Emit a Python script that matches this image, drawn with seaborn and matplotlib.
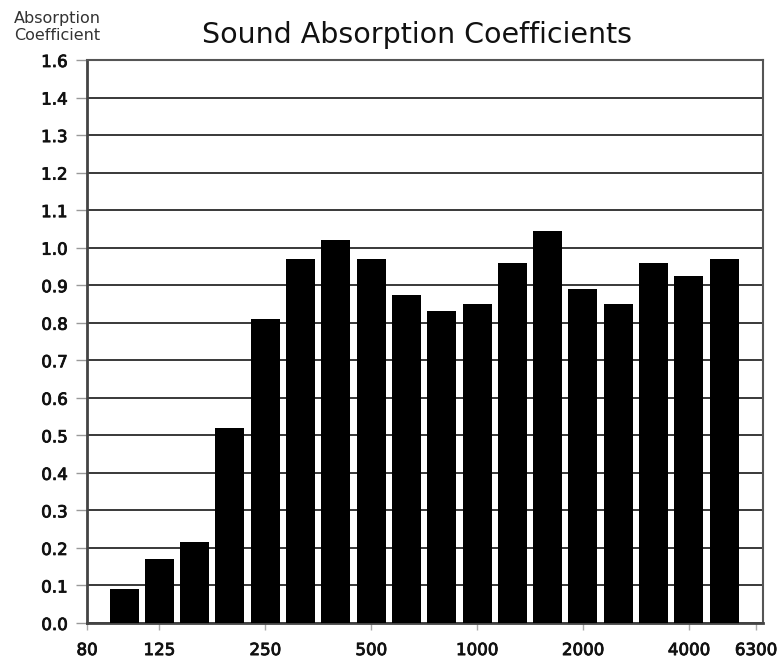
import matplotlib
matplotlib.use("Agg")
import matplotlib.pyplot as plt
import matplotlib.patheffects as pe
import seaborn as sns
import pandas as pd

# ---- data ----
bands = ["100", "125", "160", "200", "250", "315", "400", "500", "630",
         "800", "1000", "1250", "1600", "2000", "2500", "3150", "4000", "5000"]
coefficients = [0.09, 0.17, 0.215, 0.52, 0.81, 0.97, 1.02, 0.97, 0.875,
                0.83, 0.85, 0.96, 1.045, 0.89, 0.85, 0.96, 0.925, 0.97]
x_tick_positions = [-1.05, 1, 4, 7, 10, 13, 16, 17.9]
x_tick_labels = ["80", "125", "250", "500", "1000", "2000", "4000", "6300"]
y_tick_values = [0.0, 0.1, 0.2, 0.3, 0.4, 0.5, 0.6, 0.7, 0.8, 0.9, 1.0,
                 1.1, 1.2, 1.3, 1.4, 1.5]
y_tick_labels = ["0.0", "0.1", "0.2", "0.3", "0.4", "0.5", "0.6", "0.7", "0.8",
                 "0.9", "1.0", "1.1", "1.2", "1.3", "1.4", "1.6"]

df = pd.DataFrame({"band": bands, "coef": coefficients})

sns.set_style("white")
plt.rcParams["font.family"] = ["DejaVu Sans"]

fig = plt.figure(figsize=(7.78, 6.62), dpi=100)
ax = fig.add_axes([87 / 778, 1 - 623 / 662, (763 - 87) / 778, (623 - 60) / 662])

sns.barplot(data=df, x="band", y="coef", color="black", width=0.82,
            saturation=1, edgecolor="none", ax=ax, zorder=3)

ax.set_xlim(-1.05, 18.1)
ax.set_ylim(0, 1.5)

ax.set_yticks(y_tick_values)
ax.set_yticklabels(y_tick_labels)
ax.set_xticks(x_tick_positions)
ax.set_xticklabels(x_tick_labels)

ax.grid(axis="y", color="#2a2a2a", linewidth=1.3, zorder=1)
ax.grid(axis="x", visible=False)
ax.set_axisbelow(True)

for side in ["left", "bottom"]:
    ax.spines[side].set_color("#444444")
    ax.spines[side].set_linewidth(2.0)
for side in ["top", "right"]:
    ax.spines[side].set_color("#555555")
    ax.spines[side].set_linewidth(1.5)
    ax.spines[side].set_visible(True)

ax.tick_params(axis="y", which="major", length=8, width=1.0, color="#999999",
               labelsize=12, labelcolor="#111111", pad=6, left=True)
ax.tick_params(axis="x", which="major", length=5, width=1.0, color="#aaaaaa",
               labelsize=12, labelcolor="#111111", pad=8, bottom=True)
for lbl in ax.get_xticklabels() + ax.get_yticklabels():
    lbl.set_path_effects([pe.withStroke(linewidth=0.6, foreground="#111111")])

ax.set_xlabel("")
ax.set_ylabel("")

fig.text(417 / 778, 1 - 35 / 662, "Sound Absorption Coefficients",
         ha="center", va="center", fontsize=20.5, color="#111111")
fig.text(14 / 778, 1 - 27 / 662, "Absorption\nCoefficient",
         ha="left", va="center", fontsize=11.5, color="#333333", linespacing=1.2)

fig.savefig("out.png", dpi=100)
